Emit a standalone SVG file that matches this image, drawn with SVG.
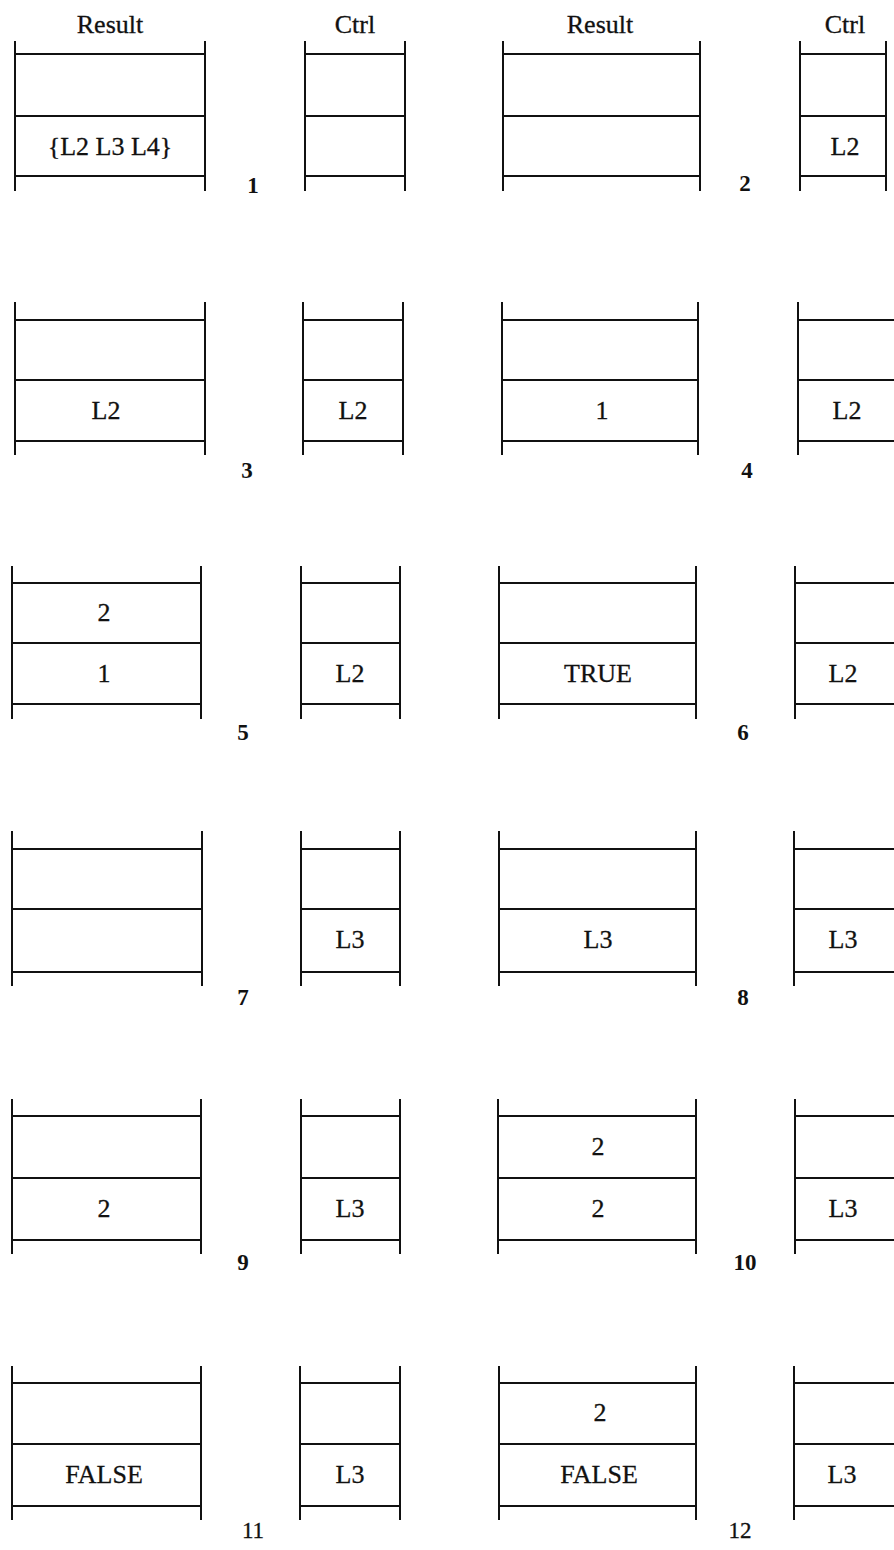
<svg xmlns="http://www.w3.org/2000/svg" width="894" height="1550" viewBox="0 0 894 1550">
<style>
line{stroke:#111;stroke-width:2;stroke-linecap:square}
text{font-family:"Liberation Serif","Times New Roman",serif;fill:#111;text-anchor:middle;stroke:#111;stroke-width:0.3}
.h{font-size:26px}
.c{font-size:26px}
.n{font-size:23px;font-weight:bold;stroke-width:0}
.m{font-size:23px}
</style>
<rect width="894" height="1550" fill="#fff"/>
<g id="headers">
<text class="h" x="110" y="33">Result</text>
<text class="h" x="355" y="33">Ctrl</text>
<text class="h" x="600" y="33">Result</text>
<text class="h" x="845" y="33">Ctrl</text>
</g>
<!-- Row 1 -->
<g id="step1">
<g id="s1-result"><line x1="15" y1="42" x2="15" y2="190"/><line x1="205" y1="42" x2="205" y2="190"/><line x1="15" y1="54" x2="205" y2="54"/><line x1="15" y1="116" x2="205" y2="116"/><line x1="15" y1="176" x2="205" y2="176"/><text class="c" x="110" y="155">{L2 L3 L4}</text></g>
<g id="s1-ctrl"><line x1="305" y1="42" x2="305" y2="190"/><line x1="405" y1="42" x2="405" y2="190"/><line x1="305" y1="54" x2="405" y2="54"/><line x1="305" y1="116" x2="405" y2="116"/><line x1="305" y1="176" x2="405" y2="176"/></g>
<text class="n" x="253" y="193">1</text>
</g>
<g id="step2">
<g id="s2-result"><line x1="503" y1="42" x2="503" y2="190"/><line x1="700" y1="42" x2="700" y2="190"/><line x1="503" y1="54" x2="700" y2="54"/><line x1="503" y1="116" x2="700" y2="116"/><line x1="503" y1="176" x2="700" y2="176"/></g>
<g id="s2-ctrl"><line x1="800" y1="42" x2="800" y2="190"/><line x1="886" y1="42" x2="886" y2="190"/><line x1="800" y1="54" x2="886" y2="54"/><line x1="800" y1="116" x2="886" y2="116"/><line x1="800" y1="176" x2="886" y2="176"/><text class="c" x="845" y="155">L2</text></g>
<text class="n" x="745" y="191">2</text>
</g>
<!-- Row 2 -->
<g id="step3">
<g id="s3-result"><line x1="15" y1="303" x2="15" y2="454"/><line x1="205" y1="303" x2="205" y2="454"/><line x1="15" y1="320" x2="205" y2="320"/><line x1="15" y1="380" x2="205" y2="380"/><line x1="15" y1="441" x2="205" y2="441"/><text class="c" x="106" y="419">L2</text></g>
<g id="s3-ctrl"><line x1="303" y1="303" x2="303" y2="454"/><line x1="403" y1="303" x2="403" y2="454"/><line x1="303" y1="320" x2="403" y2="320"/><line x1="303" y1="380" x2="403" y2="380"/><line x1="303" y1="441" x2="403" y2="441"/><text class="c" x="353" y="419">L2</text></g>
<text class="n" x="247" y="478">3</text>
</g>
<g id="step4">
<g id="s4-result"><line x1="502" y1="303" x2="502" y2="454"/><line x1="698" y1="303" x2="698" y2="454"/><line x1="502" y1="320" x2="698" y2="320"/><line x1="502" y1="380" x2="698" y2="380"/><line x1="502" y1="441" x2="698" y2="441"/><text class="c" x="602" y="419">1</text></g>
<g id="s4-ctrl"><line x1="798" y1="303" x2="798" y2="454"/><line x1="798" y1="320" x2="900" y2="320"/><line x1="798" y1="380" x2="900" y2="380"/><line x1="798" y1="441" x2="900" y2="441"/><text class="c" x="847" y="419">L2</text></g>
<text class="n" x="747" y="478">4</text>
</g>
<!-- Row 3 -->
<g id="step5">
<g id="s5-result"><line x1="12" y1="567" x2="12" y2="718"/><line x1="201" y1="567" x2="201" y2="718"/><line x1="12" y1="583" x2="201" y2="583"/><line x1="12" y1="643" x2="201" y2="643"/><line x1="12" y1="704" x2="201" y2="704"/><text class="c" x="104" y="621">2</text><text class="c" x="104" y="682">1</text></g>
<g id="s5-ctrl"><line x1="301" y1="567" x2="301" y2="718"/><line x1="400" y1="567" x2="400" y2="718"/><line x1="301" y1="583" x2="400" y2="583"/><line x1="301" y1="643" x2="400" y2="643"/><line x1="301" y1="704" x2="400" y2="704"/><text class="c" x="350" y="682">L2</text></g>
<text class="n" x="243" y="740">5</text>
</g>
<g id="step6">
<g id="s6-result"><line x1="499" y1="567" x2="499" y2="718"/><line x1="696" y1="567" x2="696" y2="718"/><line x1="499" y1="583" x2="696" y2="583"/><line x1="499" y1="643" x2="696" y2="643"/><line x1="499" y1="704" x2="696" y2="704"/><text class="c" x="598" y="682">TRUE</text></g>
<g id="s6-ctrl"><line x1="795" y1="567" x2="795" y2="718"/><line x1="795" y1="583" x2="900" y2="583"/><line x1="795" y1="643" x2="900" y2="643"/><line x1="795" y1="704" x2="900" y2="704"/><text class="c" x="843" y="682">L2</text></g>
<text class="n" x="743" y="740">6</text>
</g>
<!-- Row 4 -->
<g id="step7">
<g id="s7-result"><line x1="12" y1="832" x2="12" y2="985"/><line x1="202" y1="832" x2="202" y2="985"/><line x1="12" y1="849" x2="202" y2="849"/><line x1="12" y1="909" x2="202" y2="909"/><line x1="12" y1="972" x2="202" y2="972"/></g>
<g id="s7-ctrl"><line x1="301" y1="832" x2="301" y2="985"/><line x1="400" y1="832" x2="400" y2="985"/><line x1="301" y1="849" x2="400" y2="849"/><line x1="301" y1="909" x2="400" y2="909"/><line x1="301" y1="972" x2="400" y2="972"/><text class="c" x="350" y="948">L3</text></g>
<text class="n" x="243" y="1005">7</text>
</g>
<g id="step8">
<g id="s8-result"><line x1="499" y1="832" x2="499" y2="985"/><line x1="696" y1="832" x2="696" y2="985"/><line x1="499" y1="849" x2="696" y2="849"/><line x1="499" y1="909" x2="696" y2="909"/><line x1="499" y1="972" x2="696" y2="972"/><text class="c" x="598" y="948">L3</text></g>
<g id="s8-ctrl"><line x1="794" y1="832" x2="794" y2="985"/><line x1="794" y1="849" x2="900" y2="849"/><line x1="794" y1="909" x2="900" y2="909"/><line x1="794" y1="972" x2="900" y2="972"/><text class="c" x="843" y="948">L3</text></g>
<text class="n" x="743" y="1005">8</text>
</g>
<!-- Row 5 -->
<g id="step9">
<g id="s9-result"><line x1="12" y1="1100" x2="12" y2="1253"/><line x1="201" y1="1100" x2="201" y2="1253"/><line x1="12" y1="1116" x2="201" y2="1116"/><line x1="12" y1="1178" x2="201" y2="1178"/><line x1="12" y1="1240" x2="201" y2="1240"/><text class="c" x="104" y="1217">2</text></g>
<g id="s9-ctrl"><line x1="301" y1="1100" x2="301" y2="1253"/><line x1="400" y1="1100" x2="400" y2="1253"/><line x1="301" y1="1116" x2="400" y2="1116"/><line x1="301" y1="1178" x2="400" y2="1178"/><line x1="301" y1="1240" x2="400" y2="1240"/><text class="c" x="350" y="1217">L3</text></g>
<text class="n" x="243" y="1270">9</text>
</g>
<g id="step10">
<g id="s10-result"><line x1="498" y1="1100" x2="498" y2="1253"/><line x1="696" y1="1100" x2="696" y2="1253"/><line x1="498" y1="1116" x2="696" y2="1116"/><line x1="498" y1="1178" x2="696" y2="1178"/><line x1="498" y1="1240" x2="696" y2="1240"/><text class="c" x="598" y="1155">2</text><text class="c" x="598" y="1217">2</text></g>
<g id="s10-ctrl"><line x1="795" y1="1100" x2="795" y2="1253"/><line x1="795" y1="1116" x2="900" y2="1116"/><line x1="795" y1="1178" x2="900" y2="1178"/><line x1="795" y1="1240" x2="900" y2="1240"/><text class="c" x="843" y="1217">L3</text></g>
<text class="n" x="745" y="1270">10</text>
</g>
<!-- Row 6 -->
<g id="step11">
<g id="s11-result"><line x1="12" y1="1367" x2="12" y2="1519"/><line x1="201" y1="1367" x2="201" y2="1519"/><line x1="12" y1="1383" x2="201" y2="1383"/><line x1="12" y1="1444" x2="201" y2="1444"/><line x1="12" y1="1506" x2="201" y2="1506"/><text class="c" x="104" y="1483">FALSE</text></g>
<g id="s11-ctrl"><line x1="300" y1="1367" x2="300" y2="1519"/><line x1="400" y1="1367" x2="400" y2="1519"/><line x1="300" y1="1383" x2="400" y2="1383"/><line x1="300" y1="1444" x2="400" y2="1444"/><line x1="300" y1="1506" x2="400" y2="1506"/><text class="c" x="350" y="1483">L3</text></g>
<text class="m" x="253" y="1538">11</text>
</g>
<g id="step12">
<g id="s12-result"><line x1="499" y1="1367" x2="499" y2="1519"/><line x1="696" y1="1367" x2="696" y2="1519"/><line x1="499" y1="1383" x2="696" y2="1383"/><line x1="499" y1="1444" x2="696" y2="1444"/><line x1="499" y1="1506" x2="696" y2="1506"/><text class="c" x="600" y="1421">2</text><text class="c" x="599" y="1483">FALSE</text></g>
<g id="s12-ctrl"><line x1="794" y1="1367" x2="794" y2="1519"/><line x1="794" y1="1383" x2="900" y2="1383"/><line x1="794" y1="1444" x2="900" y2="1444"/><line x1="794" y1="1506" x2="900" y2="1506"/><text class="c" x="842" y="1483">L3</text></g>
<text class="m" x="740" y="1538">12</text>
</g>
<g id="connectors"/>
</svg>
